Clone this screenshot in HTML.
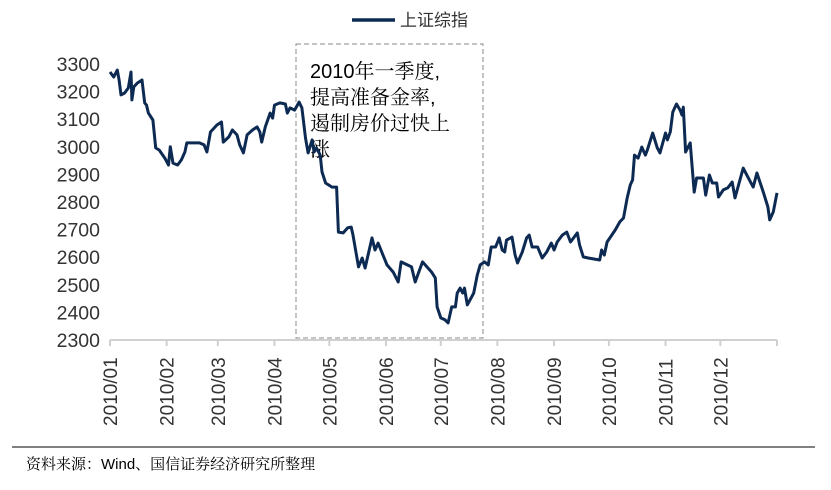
<!DOCTYPE html>
<html><head><meta charset="utf-8"><style>
body{margin:0;background:#fff;width:831px;height:490px;overflow:hidden}
svg{display:block}
</style></head><body>
<svg id="chart" width="831" height="490" xmlns="http://www.w3.org/2000/svg" font-family="Liberation Sans, Noto Sans CJK SC, sans-serif">
<g>
<line x1="352" y1="20" x2="395" y2="20" stroke="#0d2a52" stroke-width="3.5"/>
<text x="400" y="26" font-size="17" fill="#333">上证综指</text>
</g>
<g id="yaxis"></g>
<g id="xaxis"></g>
<rect x="296" y="44" width="187" height="294" fill="none" stroke="#888" stroke-dasharray="5,3" stroke-width="1"/>
<g font-family="Liberation Sans, Noto Serif CJK SC, serif" font-size="20" fill="#000">
<text x="310" y="78">2010年一季度,</text>
<text x="310" y="104">提高准备金率,</text>
<text x="310" y="130">遏制房价过快上</text>
<text x="310" y="156">涨</text>
</g>
<path id="series" fill="none" stroke="#0d2a52" stroke-width="3" stroke-linejoin="round"/>
<line x1="12" y1="447" x2="815" y2="447" stroke="#000" stroke-width="1"/>
<text x="26" y="469" font-size="15" font-family="Liberation Sans, Noto Serif CJK SC, serif" fill="#000">资料来源：Wind、国信证券经济研究所整理</text>
</svg>
<script>
const monthLabels=["2010/01","2010/02","2010/03","2010/04","2010/05","2010/06","2010/07","2010/08","2010/09","2010/10","2010/11","2010/12"];
const monthStartDays=[0,31,59,90,120,151,181,212,243,273,304,334];
const yTicks=[2300,2400,2500,2600,2700,2800,2900,3000,3100,3200,3300];
const days=[0,2,4,5,6,8,10,11.5,12,13,15,17.5,19,20,21,23.5,25,27,30,32,33,34.5,37,39,41,42,49,51.5,53,55,56,58.5,61,62,65,67,69.5,71,73,75,78,80.5,82,83,85,87.6,89,90,93,96,97,98.5,101,103.5,105,107,108.4,110.6,111.7,113,115,116,118,121.5,124,125,127.6,130,132,133,136,138,139.6,143.4,145,146.7,151.6,155,157.7,159.3,165,167,171,172.5,176,178,179,181,183.4,185,187,189,190,191.6,193,194,195.5,199,201,202.6,205,207,208.6,211,213,214.6,216,217,220,221.7,223,225.6,228,229.4,231,234,236.5,239,241.5,243,244.7,247.5,250,252,255.7,257,259,261.7,268,269,270.5,272,276.5,279,281,283,284.7,286,287,289,291,293,294,297,299.5,301,304,305,306.6,308,310,312,313,313.7,315,317.5,319.7,321,324.7,326,328,329.6,332,333,335.6,338,340.5,342,346.5,349,352,354,357.5,360,361,363,365];
const values=[3271,3253,3278,3242,3188,3195,3213,3271,3170,3217,3231,3242,3159,3151,3122,3097,2996,2988,2959,2934,3000,2941,2934,2952,2981,3014,3014,3007,2981,3054,3061,3079,3090,3017,3036,3061,3043,3007,2978,3043,3061,3072,3054,3017,3072,3122,3104,3151,3159,3155,3122,3141,3133,3162,3141,3032,2978,3025,2981,2996,2970,2909,2869,2854,2854,2691,2688,2706,2709,2680,2565,2597,2561,2670,2626,2651,2572,2546,2510,2583,2565,2510,2583,2572,2546,2525,2420,2380,2373,2362,2420,2420,2470,2488,2470,2488,2427,2470,2536,2572,2583,2572,2637,2637,2670,2626,2619,2662,2673,2608,2579,2619,2670,2680,2637,2637,2597,2619,2651,2626,2655,2680,2691,2655,2688,2644,2601,2597,2590,2626,2608,2655,2699,2728,2742,2815,2862,2880,2970,2959,2999,2970,2988,3050,2996,2978,3050,3025,3054,3126,3155,3133,3115,3144,2981,3014,2836,2887,2887,2825,2898,2869,2869,2818,2844,2851,2872,2815,2923,2891,2854,2905,2836,2782,2735,2764,2833];
const NS="http://www.w3.org/2000/svg";
const X0=110,X1=777,Y0=340,Y1=64;
function xScale(d){return X0+(X1-X0)*d/365;}
function yScale(v){return Y0-(Y0-Y1)*(v-2300)/1000;}
const ya=document.getElementById('yaxis');
yTicks.forEach(t=>{const el=document.createElementNS(NS,'text');


el.setAttribute('x',100);el.setAttribute('y',yScale(t)+7);el.setAttribute('text-anchor','end');el.setAttribute('font-size','19.5');el.setAttribute('fill','#333');el.textContent=t;ya.appendChild(el);});
const xa=document.getElementById('xaxis');
const ax=document.createElementNS(NS,'line');


ax.setAttribute('x1',X0);ax.setAttribute('x2',X1);ax.setAttribute('y1',Y0);ax.setAttribute('y2',Y0);ax.setAttribute('stroke','#d0d0d0');ax.setAttribute('stroke-width','2');xa.appendChild(ax);
monthStartDays.concat([365]).forEach(d=>{const tk=document.createElementNS(NS,'line');


const x=xScale(d);tk.setAttribute('x1',x);tk.setAttribute('x2',x);tk.setAttribute('y1',Y0);tk.setAttribute('y2',Y0+6);tk.setAttribute('stroke','#d0d0d0');tk.setAttribute('stroke-width','2');xa.appendChild(tk);});
monthLabels.forEach((m,i)=>{const el=document.createElementNS(NS,'text');


const x=xScale(monthStartDays[i])+7;el.setAttribute('transform','translate('+x+',426) rotate(-90)');el.setAttribute('font-size','19');el.setAttribute('fill','#333');el.textContent=m;xa.appendChild(el);});
let dstr='';days.forEach((d,i)=>{dstr+=(i?'L':'M')+xScale(d).toFixed(1)+','+yScale(values[i]).toFixed(1);});
document.getElementById('series').setAttribute('d',dstr);
</script>
</body></html>
